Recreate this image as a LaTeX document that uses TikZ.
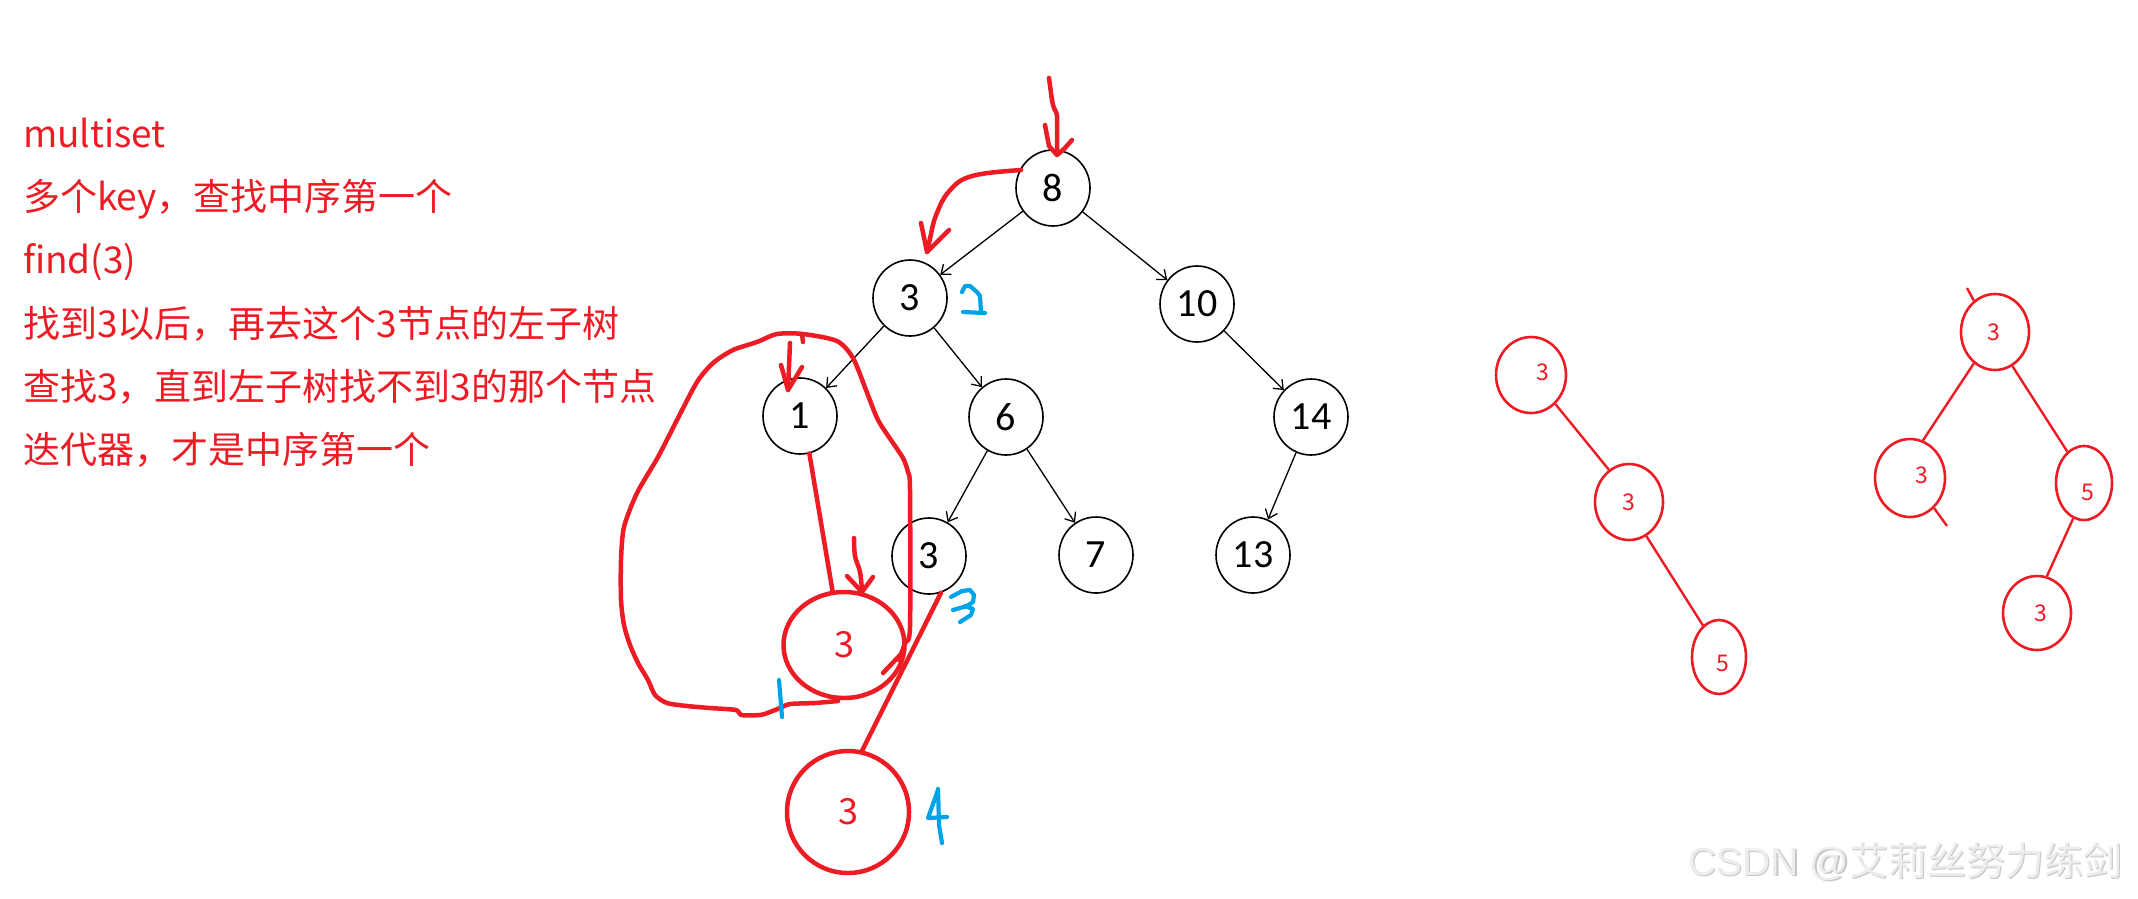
\documentclass[tikz,border=0pt]{standalone}
\usepackage{fontspec}
\setmainfont{Noto Sans CJK SC}
\newfontfamily\numfont{Carlito}
\newfontfamily\latfont{Liberation Sans}
\usetikzlibrary{shapes.geometric,arrows.meta}
\definecolor{pred}{RGB}{237,28,36}
\definecolor{pblue}{RGB}{0,162,232}
\tikzset{
  bnode/.style={ellipse, draw=black, line width=1.6pt, minimum width=74pt, minimum height=76pt, inner sep=0pt, font=\numfont\fontsize{40}{40}\selectfont},
  bedge/.style={draw=black, line width=1.3pt, -{Straight Barb[length=8pt,width=13pt]}},
  rnode/.style={ellipse, draw=pred, line width=4.5pt, inner sep=0pt, text=pred, font=\fontsize{36}{36}\selectfont},
  snode/.style={ellipse, draw=pred, line width=2.6pt, inner sep=0pt, text=pred, font=\fontsize{23}{23}\selectfont},
  slab/.style={text=pred, font=\fontsize{23}{23}\selectfont, inner sep=0pt},
  sedge/.style={draw=pred, line width=2.4pt},
  hand/.style={draw=pred, line width=4.5pt, line cap=round, line join=round},
  bhand/.style={draw=pblue, line width=4.2pt, line cap=round, line join=round},
  redtext/.style={anchor=base west, text=pred, inner sep=0pt, font=\fontsize{37}{37}\selectfont},
}
\begin{document}
\begin{tikzpicture}[x=1pt,y=-1pt]
\fill[white] (0,0) rectangle (2138,898);
\useasboundingbox (0,0) rectangle (2138,898);

% left text
\node[redtext] (t1) at (23,147) {multiset};
\node[redtext] (t2) at (23,210) {多个key，查找中序第一个};
\node[redtext] (t3) at (23,273) {find(3)};
\node[redtext] (t4) at (23,337) {找到3以后，再去这个3节点的左子树};
\node[redtext] (t5) at (23,400) {查找3，直到左子树找不到3的那个节点};
\node[redtext] (t6) at (23,463) {迭代器，才是中序第一个};

% black tree
\node[bnode] (n8) at (1053,188) {8};
\node[bnode] (n3) at (910,298) {3};
\node[bnode] (n10) at (1197,304) {10};
\node[bnode] (n1) at (800,416) {1};
\node[bnode] (n6) at (1006,417) {6};
\node[bnode] (n14) at (1311,417) {14};
\node[bnode] (b3) at (929,556) {3};
\node[bnode] (n7) at (1096,555) {7};
\node[bnode] (n13) at (1253,555) {13};
\draw[bedge] (n8) -- (n3);
\draw[bedge] (n8) -- (n10);
\draw[bedge] (n3) -- (n1);
\draw[bedge] (n3) -- (n6);
\draw[bedge] (n10) -- (n14);
\draw[bedge] (n6) -- (b3);
\draw[bedge] (n6) -- (n7);
\draw[bedge] (n14) -- (n13);

% red big nodes
\node[rnode, minimum width=121pt, minimum height=106pt] (r1) at (844,645) {3};
\node[rnode, minimum width=122pt, minimum height=122pt] (r2) at (848,812) {3};
\draw[hand] (n1.-76) -- (r1.102);
\draw[hand] (b3.-72) -- (r2.77);

% red arrow into 8
\draw[hand] plot[smooth, tension=0.6] coordinates {(1049,78) (1052,100) (1054,108) (1057,116) (1057,135) (1057,153)};
\draw[hand] (1045,125) -- (1049,146) -- (1057,155) -- (1064,149) -- (1072,140);
% curved red arrow 8 -> 3
\draw[hand] plot[smooth, tension=0.6] coordinates {(1021,170) (1008,171) (988,173) (972,176) (960,181) (952,188) (944,198) (939,208) (934,221) (931,234) (927,252)};
\draw[hand] (921,223) -- (927,252) -- (949,230);
% red arrow into 1
\draw[hand] (802,334) -- (803,342);
\draw[hand] (790,343) -- (788,390);
\draw[hand] (781,365) -- (788,390) -- (802,367);
% red arrow into upper red 3
\draw[hand] plot[smooth, tension=0.6] coordinates {(854,538) (855,556) (860,572) (862,591)};
\draw[hand] (847,576) -- (862,592) -- (873,577);
% big loop
\draw[hand] plot[smooth, tension=0.45] coordinates {
 (838,701) (815,703) (790,704) (780,708) (770,712) (760,715) (741,715) (736,710) (710,708) (687,706)
 (667,703) (655,695) (648,680) (638,663) (630,645) (624,625) (621,600) (621,560) (624,527) (637,493)
 (658,457) (677,420) (697,382) (713,363) (733,350) (757,342) (777,334) (803,334) (837,341) (853,358)
 (866,390) (878,420) (893,443) (903,458) (908,472) (910,490) (910,627) (905,643) (899,660)};
\draw[hand] (902,653) -- (883,673);

% blue marks
\draw[bhand] (962,292) -- (965,286) -- (970,286) -- (977,292) -- (980,296) -- (981,312);
\draw[bhand] (963,312) -- (985,313);
\draw[bhand] (951,597) -- (962,591) -- (970,590) -- (974,595) -- (973,602) -- (967,606) -- (953,610);
\draw[bhand] (965,606) -- (973,609) -- (971,615) -- (960,622);
\draw[bhand] (779,680) -- (782,717);
\draw[bhand] (938,789) -- (939,825) -- (942,843);
\draw[bhand] (938,790) -- (928,818) -- (947,817);

% small tree left
\node[snode, minimum width=70pt, minimum height=76pt] (s1) at (1531,375) {};
\node[snode, minimum width=68pt, minimum height=76pt] (s2) at (1629,502) {};
\node[snode, minimum width=54pt, minimum height=74pt] (s3) at (1719,657) {};
\node[slab] at (1543,372) {3};
\node[slab] at (1629,502) {3};
\node[slab] at (1723,663) {5};
\draw[sedge] (s1.-50) -- (s2.122);
\draw[sedge] (s2.-63) -- (s3.117);

% small tree right
\node[snode, minimum width=68pt, minimum height=76pt] (u1) at (1995,332) {};
\node[snode, minimum width=70pt, minimum height=78pt] (u2) at (1910,478) {};
\node[snode, minimum width=56pt, minimum height=74pt] (u3) at (2084,483) {};
\node[snode, minimum width=68pt, minimum height=74pt] (u4) at (2037,613) {};
\node[slab] at (1994,332) {3};
\node[slab] at (1922,475) {3};
\node[slab] at (2088,492) {5};
\node[slab] at (2041,613) {3};
\draw[sedge] (u1.-124) -- (u2.71);
\draw[sedge] (u1.-63) -- (u3.118);
\draw[sedge] (u3.-107) -- (u4.75);
\coordinate (k1) at (1967,288);
\coordinate (k2) at (1934,508);
\coordinate (k3) at (1947,526);
\draw[sedge] (k1) -- (u1.124);
\draw[sedge] (k2) -- (k3);

% watermark
\node[anchor=base west, inner sep=0pt, text=gray!45] at (1689.5,876.5) {\fontsize{39}{39}\selectfont{\latfont CSDN @}艾莉丝努力练剑};
\node[anchor=base west, inner sep=0pt, text=gray!14] (wm) at (1688,875) {\fontsize{39}{39}\selectfont{\latfont CSDN @}艾莉丝努力练剑};
\end{tikzpicture}
\end{document}
